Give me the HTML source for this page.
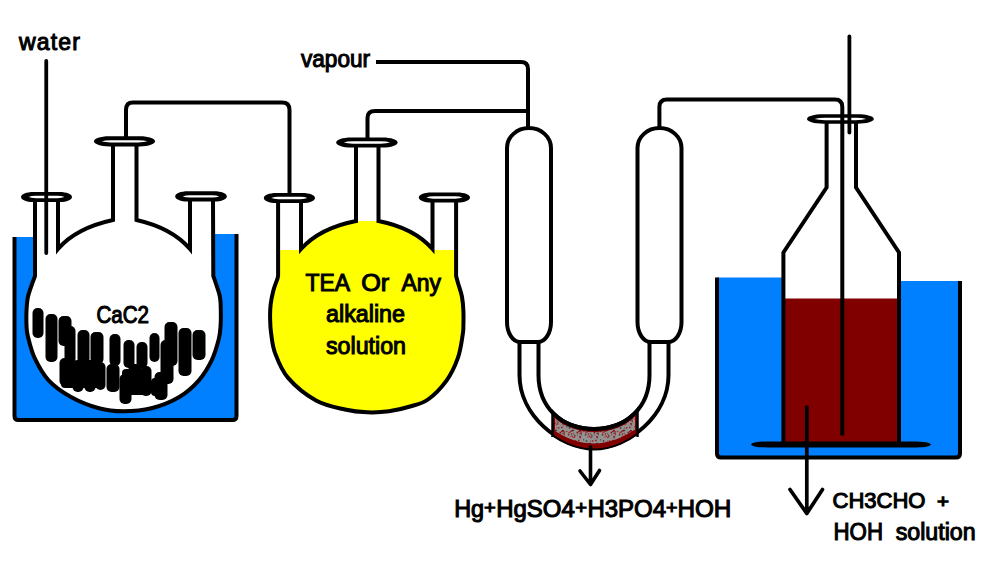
<!DOCTYPE html>
<html><head><meta charset="utf-8">
<style>
html,body{margin:0;padding:0;background:#fff;width:1000px;height:572px;overflow:hidden;}
svg{display:block;}
text{font-family:"Liberation Sans",sans-serif;fill:#000;}
</style></head>
<body>
<svg width="1000" height="572" viewBox="0 0 1000 572">
<rect width="1000" height="572" fill="#fff"/>

<!-- ============ BATH 1 ============ -->
<path d="M14.5,237 V416 Q14.5,420 18.5,420 H232.5 Q236.5,420 236.5,416 V234 H124 V237 Z" fill="#0080ff"/>
<path d="M14.5,237 V416 Q14.5,420 18.5,420 H232.5 Q236.5,420 236.5,416 V234" fill="none" stroke="#000" stroke-width="4"/>

<!-- ============ FLASK 1 ============ -->
<path d="M35,200 L35,276 C34.6,277.2 33.6,279.5 32.4,283.0 C31.2,286.5 28.9,292.3 27.9,297.0 C26.9,301.7 26.7,306.3 26.5,311.0 C26.3,315.7 26.3,320.8 26.5,325.0 C26.7,329.2 26.4,330.5 27.8,336.0 C29.2,341.5 31.1,350.5 34.6,357.9 C38.1,365.3 42.5,373.8 48.6,380.3 C54.7,386.8 62.6,392.3 71.0,397.0 C79.4,401.7 90.2,405.9 99.0,408.3 C107.8,410.7 114.8,411.3 123.5,411.3 C132.2,411.3 142.1,410.7 151.4,408.3 C160.7,405.9 171.4,401.7 179.3,397.0 C187.2,392.3 193.5,386.4 198.9,380.3 C204.3,374.2 208.2,367.6 211.5,360.7 C214.8,353.8 217.3,344.9 218.8,339.0 C220.3,333.1 220.3,329.7 220.6,325.0 C220.9,320.3 220.9,315.7 220.8,311.0 C220.7,306.3 220.8,301.7 219.9,297.0 C219.1,292.3 216.8,286.5 215.7,283.0 C214.6,279.5 213.7,277.2 213.3,276.0 L213,200 Z" fill="#fff"/>
<path d="M35,202 L35,276 C34.6,277.2 33.6,279.5 32.4,283.0 C31.2,286.5 28.9,292.3 27.9,297.0 C26.9,301.7 26.7,306.3 26.5,311.0 C26.3,315.7 26.3,320.8 26.5,325.0 C26.7,329.2 26.4,330.5 27.8,336.0 C29.2,341.5 31.1,350.5 34.6,357.9 C38.1,365.3 42.5,373.8 48.6,380.3 C54.7,386.8 62.6,392.3 71.0,397.0 C79.4,401.7 90.2,405.9 99.0,408.3 C107.8,410.7 114.8,411.3 123.5,411.3 C132.2,411.3 142.1,410.7 151.4,408.3 C160.7,405.9 171.4,401.7 179.3,397.0 C187.2,392.3 193.5,386.4 198.9,380.3 C204.3,374.2 208.2,367.6 211.5,360.7 C214.8,353.8 217.3,344.9 218.8,339.0 C220.3,333.1 220.3,329.7 220.6,325.0 C220.9,320.3 220.9,315.7 220.8,311.0 C220.7,306.3 220.8,301.7 219.9,297.0 C219.1,292.3 216.8,286.5 215.7,283.0 C214.6,279.5 213.7,277.2 213.3,276.0 L213,201" fill="none" stroke="#000" stroke-width="4"/>
<path d="M190,201 L190,249 Q172,228 136.5,220 L136.5,146" fill="none" stroke="#000" stroke-width="4" stroke-linejoin="miter"/>
<path d="M113,146 L113,220 Q76,228 58,249 L58,202" fill="none" stroke="#000" stroke-width="4" stroke-linejoin="miter"/>

<!-- CaC2 lumps -->
<g fill="#000">
<rect x="32.5" y="308" width="11" height="30" rx="5"/>
<rect x="45.5" y="314" width="12" height="48" rx="5"/>
<rect x="58.5" y="316" width="13" height="30" rx="5"/>
<rect x="64.5" y="326" width="11" height="38" rx="5"/>
<rect x="77.5" y="330" width="12" height="34" rx="5"/>
<rect x="90.5" y="332" width="13" height="32" rx="5"/>
<rect x="109.5" y="334" width="11" height="32" rx="5"/>
<rect x="123.5" y="340" width="11" height="28" rx="5"/>
<rect x="136.5" y="342" width="11" height="26" rx="5"/>
<rect x="149.5" y="333" width="10" height="29" rx="5"/>
<rect x="164.5" y="322" width="13" height="44" rx="5"/>
<rect x="178.5" y="328" width="13" height="48" rx="5"/>
<rect x="192.5" y="330" width="13" height="30" rx="5"/>
<rect x="59.5" y="358" width="13" height="28" rx="5"/>
<rect x="72.5" y="360" width="11" height="32" rx="5"/>
<rect x="84.5" y="360" width="11" height="32" rx="5"/>
<rect x="95.5" y="362" width="10" height="28" rx="5"/>
<rect x="106.5" y="364" width="13" height="28" rx="5"/>
<rect x="119.5" y="374" width="12" height="30" rx="5"/>
<rect x="128.5" y="364" width="13" height="24" rx="5"/>
<rect x="140.5" y="366" width="11" height="30" rx="5"/>
<rect x="154.5" y="372" width="13" height="28" rx="5"/>
<rect x="160.5" y="340" width="13" height="44" rx="5"/>
<rect x="61" y="363" width="43" height="25" rx="4"/>
<rect x="122" y="369" width="29" height="26" rx="4"/>
<rect x="151" y="378" width="12" height="18" rx="4"/>
</g>
<text x="96.5" y="323" font-size="23" stroke="#000" stroke-width="1.1" textLength="52.5" lengthAdjust="spacingAndGlyphs">CaC2</text>

<!-- collars flask1 -->
<path d="M21,197 C21,194.19 26.1,191.9 33.75,191.9 H59.25 C66.9,191.9 72,194.19 72,197 C72,199.81 66.9,202.1 59.25,202.1 H33.75 C26.1,202.1 21,199.81 21,197 Z" fill="#000"/>
<path d="M28.5,197 Q31.2,195.85 35.7,195.85 H57.3 Q61.8,195.85 64.5,197 Q61.8,198.15 57.3,198.15 H35.7 Q31.2,198.15 28.5,197 Z" fill="#fff"/>
<path d="M94,141.3 C94,138.5 100.1,136.2 109.25,136.2 H139.75 C148.9,136.2 155,138.5 155,141.3 C155,144.11 148.9,146.4 139.75,146.4 H109.25 C100.1,146.4 94,144.11 94,141.3 Z" fill="#000"/>
<path d="M101.5,141.3 Q104.95,140.15 110.7,140.15 H138.3 Q144.05,140.15 147.5,141.3 Q144.05,142.45 138.3,142.45 H110.7 Q104.95,142.45 101.5,141.3 Z" fill="#fff"/>
<path d="M175.2,196.4 C175.2,193.59 180.36,191.3 188.1,191.3 H213.9 C221.64,191.3 226.8,193.59 226.8,196.4 C226.8,199.21 221.64,201.5 213.9,201.5 H188.1 C180.36,201.5 175.2,199.21 175.2,196.4 Z" fill="#000"/>
<path d="M182.7,196.4 Q185.44,195.25 190.02,195.25 H211.98 Q216.55,195.25 219.3,196.4 Q216.55,197.55 211.98,197.55 H190.02 Q185.44,197.55 182.7,196.4 Z" fill="#fff"/>

<!-- water tube -->
<line x1="46.25" y1="61" x2="46.25" y2="253" stroke="#000" stroke-width="3.8" stroke-linecap="round"/>
<text x="19" y="50" font-size="23" stroke="#000" stroke-width="1.05" textLength="61" lengthAdjust="spacing">water</text>

<!-- tube 1 -->
<path d="M126,137 V110 Q126,102.6 133,102.6 H282 Q289.5,102.6 289.5,110 V194" fill="none" stroke="#000" stroke-width="4"/>

<!-- ============ FLASK 2 ============ -->
<path d="M278.1,203 L278.1,275 C278.0,275.6 278.2,276.3 277.4,278.8 C276.6,281.3 274.6,285.8 273.5,290.0 C272.4,294.2 271.3,299.3 270.7,304.0 C270.1,308.7 270.0,313.1 270.1,318.0 C270.2,322.9 270.2,327.4 271.1,333.3 C272.0,339.2 272.4,346.0 275.2,353.4 C278.0,360.8 281.3,370.0 288.1,377.9 C294.9,385.8 306.5,395.2 316.0,400.5 C325.5,405.8 336.5,407.5 345.0,409.5 C353.5,411.5 359.7,412.0 367.0,412.3 C374.3,412.6 381.8,412.3 389.0,411.3 C396.2,410.3 403.5,408.5 410.0,406.5 C416.5,404.5 421.9,403.9 428.0,399.5 C434.1,395.1 441.7,387.2 446.7,380.3 C451.7,373.4 455.2,365.5 457.9,357.9 C460.6,350.3 461.8,340.2 462.7,334.7 C463.6,329.2 463.3,328.9 463.4,325.0 C463.5,321.1 463.6,315.7 463.4,311.0 C463.2,306.3 462.9,301.7 462.0,297.0 C461.1,292.3 459.0,286.5 458.0,283.0 C457.0,279.5 456.4,277.2 456.1,276.0 L456.1,202 Z" fill="#fff"/>
<path d="M278.1,250 L278.1,275 C278.0,275.6 278.2,276.3 277.4,278.8 C276.6,281.3 274.6,285.8 273.5,290.0 C272.4,294.2 271.3,299.3 270.7,304.0 C270.1,308.7 270.0,313.1 270.1,318.0 C270.2,322.9 270.2,327.4 271.1,333.3 C272.0,339.2 272.4,346.0 275.2,353.4 C278.0,360.8 281.3,370.0 288.1,377.9 C294.9,385.8 306.5,395.2 316.0,400.5 C325.5,405.8 336.5,407.5 345.0,409.5 C353.5,411.5 359.7,412.0 367.0,412.3 C374.3,412.6 381.8,412.3 389.0,411.3 C396.2,410.3 403.5,408.5 410.0,406.5 C416.5,404.5 421.9,403.9 428.0,399.5 C434.1,395.1 441.7,387.2 446.7,380.3 C451.7,373.4 455.2,365.5 457.9,357.9 C460.6,350.3 461.8,340.2 462.7,334.7 C463.6,329.2 463.3,328.9 463.4,325.0 C463.5,321.1 463.6,315.7 463.4,311.0 C463.2,306.3 462.9,301.7 462.0,297.0 C461.1,292.3 459.0,286.5 458.0,283.0 C457.0,279.5 456.4,277.2 456.1,276.0 L456.1,250 L432.5,250 Q414,228 378.5,221 L356,221 Q320,228 301,250 Z" fill="#ffff00"/>
<path d="M278.1,203 L278.1,275 C278.0,275.6 278.2,276.3 277.4,278.8 C276.6,281.3 274.6,285.8 273.5,290.0 C272.4,294.2 271.3,299.3 270.7,304.0 C270.1,308.7 270.0,313.1 270.1,318.0 C270.2,322.9 270.2,327.4 271.1,333.3 C272.0,339.2 272.4,346.0 275.2,353.4 C278.0,360.8 281.3,370.0 288.1,377.9 C294.9,385.8 306.5,395.2 316.0,400.5 C325.5,405.8 336.5,407.5 345.0,409.5 C353.5,411.5 359.7,412.0 367.0,412.3 C374.3,412.6 381.8,412.3 389.0,411.3 C396.2,410.3 403.5,408.5 410.0,406.5 C416.5,404.5 421.9,403.9 428.0,399.5 C434.1,395.1 441.7,387.2 446.7,380.3 C451.7,373.4 455.2,365.5 457.9,357.9 C460.6,350.3 461.8,340.2 462.7,334.7 C463.6,329.2 463.3,328.9 463.4,325.0 C463.5,321.1 463.6,315.7 463.4,311.0 C463.2,306.3 462.9,301.7 462.0,297.0 C461.1,292.3 459.0,286.5 458.0,283.0 C457.0,279.5 456.4,277.2 456.1,276.0 L456.1,202" fill="none" stroke="#000" stroke-width="4"/>
<path d="M432.5,202 L432.5,249 Q414,228 378.5,221 L378.5,147" fill="none" stroke="#000" stroke-width="4"/>
<path d="M356,147 L356,221 Q320,228 301,249 L301,203" fill="none" stroke="#000" stroke-width="4"/>
<path d="M263.8,198 C263.8,195.19 268.92,192.9 276.6,192.9 H302.2 C309.88,192.9 315,195.19 315,198 C315,200.81 309.88,203.1 302.2,203.1 H276.6 C268.92,203.1 263.8,200.81 263.8,198 Z" fill="#000"/>
<path d="M271.3,198 Q274.01,196.85 278.54,196.85 H300.26 Q304.78,196.85 307.5,198 Q304.78,199.15 300.26,199.15 H278.54 Q274.01,199.15 271.3,198 Z" fill="#fff"/>
<path d="M336.2,142.5 C336.2,139.69 342.34,137.4 351.55,137.4 H382.25 C391.46,137.4 397.6,139.69 397.6,142.5 C397.6,145.31 391.46,147.6 382.25,147.6 H351.55 C342.34,147.6 336.2,145.31 336.2,142.5 Z" fill="#000"/>
<path d="M343.7,142.5 Q347.18,141.35 352.98,141.35 H380.82 Q386.62,141.35 390.1,142.5 Q386.62,143.65 380.82,143.65 H352.98 Q347.18,143.65 343.7,142.5 Z" fill="#fff"/>
<path d="M418.8,197.5 C418.8,194.69 423.92,192.4 431.6,192.4 H457.2 C464.88,192.4 470,194.69 470,197.5 C470,200.31 464.88,202.6 457.2,202.6 H431.6 C423.92,202.6 418.8,200.31 418.8,197.5 Z" fill="#000"/>
<path d="M426.3,197.5 Q429.01,196.35 433.54,196.35 H455.26 Q459.78,196.35 462.5,197.5 Q459.78,198.65 455.26,198.65 H433.54 Q429.01,198.65 426.3,197.5 Z" fill="#fff"/>
<text x="305.5" y="291" font-size="23" stroke="#000" stroke-width="1.05" textLength="44.5" lengthAdjust="spacingAndGlyphs">TEA</text><text x="361.2" y="291" font-size="23" stroke="#000" stroke-width="1.05" textLength="28" lengthAdjust="spacingAndGlyphs">Or</text><text x="401.4" y="291" font-size="23" stroke="#000" stroke-width="1.05" textLength="39.5" lengthAdjust="spacingAndGlyphs">Any</text>
<text x="326" y="322" font-size="23" stroke="#000" stroke-width="1.05" textLength="79" lengthAdjust="spacingAndGlyphs">alkaline</text>
<text x="326" y="353.5" font-size="23" stroke="#000" stroke-width="1.05" textLength="80" lengthAdjust="spacingAndGlyphs">solution</text>

<!-- tube 2 -->
<path d="M367.5,138 V118 Q367.5,111 375,111 H528" fill="none" stroke="#000" stroke-width="4"/>
<!-- vapour -->
<text x="301" y="67" font-size="23" stroke="#000" stroke-width="1.05" textLength="69" lengthAdjust="spacingAndGlyphs">vapour</text>
<path d="M376,62 H521 Q528,62 528,69 V128" fill="none" stroke="#000" stroke-width="4"/>

<!-- ============ U TUBE ============ -->
<defs>
<pattern id="spk" width="17" height="13" patternUnits="userSpaceOnUse"><rect width="17" height="13" fill="#939393"/><rect x="5.5" y="2.0" width="0.9" height="0.9" fill="#403030"/><rect x="1.2" y="7.0" width="0.9" height="0.9" fill="#a02020"/><rect x="15.5" y="2.8" width="1.5" height="1.5" fill="#8a1515"/><rect x="7.1" y="3.1" width="1.5" height="1.5" fill="#b03030"/><rect x="1.0" y="7.4" width="0.9" height="0.9" fill="#800000"/><rect x="9.8" y="5.2" width="0.9" height="0.9" fill="#800000"/><rect x="9.5" y="1.7" width="1.1" height="1.1" fill="#5a2a2a"/><rect x="9.2" y="7.4" width="1.1" height="1.1" fill="#b03030"/><rect x="1.8" y="7.4" width="1.3" height="1.3" fill="#800000"/><rect x="1.7" y="9.3" width="0.9" height="0.9" fill="#b03030"/><rect x="10.5" y="6.5" width="1.5" height="1.5" fill="#b03030"/><rect x="13.2" y="6.1" width="1.3" height="1.3" fill="#5a2a2a"/><rect x="5.1" y="10.3" width="1.1" height="1.1" fill="#403030"/><rect x="1.4" y="3.9" width="1.3" height="1.3" fill="#5a2a2a"/><rect x="12.4" y="3.7" width="0.9" height="0.9" fill="#8a1515"/><rect x="8.7" y="2.1" width="1.1" height="1.1" fill="#a02020"/><rect x="15.9" y="5.5" width="0.9" height="0.9" fill="#403030"/><rect x="13.0" y="7.4" width="1.3" height="1.3" fill="#a02020"/><rect x="11.8" y="7.7" width="1.5" height="1.5" fill="#b03030"/><rect x="1.2" y="1.2" width="1.5" height="1.5" fill="#a02020"/><rect x="11.8" y="0.8" width="1.3" height="1.3" fill="#403030"/><rect x="11.0" y="12.9" width="1.3" height="1.3" fill="#5a2a2a"/><rect x="12.2" y="11.5" width="0.9" height="0.9" fill="#a02020"/><rect x="16.0" y="4.6" width="0.9" height="0.9" fill="#b03030"/><rect x="8.4" y="2.8" width="1.1" height="1.1" fill="#a02020"/><rect x="12.6" y="5.2" width="0.9" height="0.9" fill="#5a2a2a"/><rect x="2.8" y="5.2" width="1.1" height="1.1" fill="#a02020"/><rect x="13.9" y="11.2" width="1.5" height="1.5" fill="#a02020"/><rect x="16.8" y="8.9" width="1.1" height="1.1" fill="#5a2a2a"/><rect x="2.6" y="2.3" width="1.1" height="1.1" fill="#800000"/><rect x="0.2" y="10.8" width="1.3" height="1.3" fill="#800000"/><rect x="4.8" y="1.9" width="1.3" height="1.3" fill="#b03030"/><rect x="10.4" y="4.1" width="0.9" height="0.9" fill="#800000"/><rect x="7.8" y="11.3" width="1.5" height="1.5" fill="#403030"/><rect x="6.8" y="5.1" width="1.5" height="1.5" fill="#5a2a2a"/><rect x="1.1" y="0.9" width="1.5" height="1.5" fill="#800000"/><rect x="2.8" y="4.4" width="0.9" height="0.9" fill="#8a1515"/><rect x="0.0" y="2.0" width="1.3" height="1.3" fill="#8a1515"/><rect x="10.4" y="0.9" width="1.5" height="1.5" fill="#800000"/><rect x="2.5" y="3.3" width="1.3" height="1.3" fill="#a02020"/></pattern>
<clipPath id="hgclip"><rect x="552" y="395" width="86" height="60"/></clipPath>
<clipPath id="hgclip2"><rect x="555" y="395" width="80" height="60"/></clipPath>
</defs>
<!-- bulbs -->
<path d="M507,322 V148 A22,20 0 0 1 551,148 V322 A13,20 0 0 1 538,342 H520 A13,20 0 0 1 507,322 Z" fill="none" stroke="#000" stroke-width="4"/>
<path d="M637.5,322 V148 A22,20 0 0 1 681.5,148 V322 A13,20 0 0 1 668.5,342 H650.5 A13,20 0 0 1 637.5,322 Z" fill="none" stroke="#000" stroke-width="4"/>
<path d="M519.5,342 V375 C519.5,415.4 559.2,448 594,448 C628.8,448 668.5,415.4 668.5,375 V342" fill="none" stroke="#000" stroke-width="4"/>
<path d="M538.5,342 V375 C538.5,407.1 561.1,429 594,429 C626.9,429 649.5,407.1 649.5,375 V342" fill="none" stroke="#000" stroke-width="4"/>
<g clip-path="url(#hgclip)">
<path d="M519.5,375 C519.5,415.4 559.2,448 594,448 C628.8,448 668.5,415.4 668.5,375 L649.5,375 C649.5,407.1 626.9,429 594,429 C561.1,429 538.5,407.1 538.5,375 Z" fill="#800000" transform="translate(0,1.2)"/>
</g>
<g clip-path="url(#hgclip2)">
<path d="M519.5,370.5 C519.5,410.9 559.2,443.5 594,443.5 C628.8,443.5 668.5,410.9 668.5,370.5 L649.5,378 C649.5,410.1 626.9,432 594,432 C561.1,432 538.5,410.1 538.5,378 Z" fill="url(#spk)"/>
</g>
<path d="M538.5,375 C538.5,407.1 561.1,429 594,429 C626.9,429 649.5,407.1 649.5,375" fill="none" stroke="#000" stroke-width="4" clip-path="url(#hgclip)"/>
<path d="M519.5,375 C519.5,415.4 559.2,448 594,448 C628.8,448 668.5,415.4 668.5,375" fill="none" stroke="#000" stroke-width="2" transform="translate(0,1.6)" clip-path="url(#hgclip)"/>
<line x1="552.5" y1="412" x2="552.5" y2="437" stroke="#000" stroke-width="2.5"/>
<line x1="637.5" y1="411" x2="637.5" y2="437" stroke="#000" stroke-width="2.5"/>
<!-- arrow 1 -->
<path d="M590.5,447 V484 M580,471 L590.5,484.5 L599.5,470.5" fill="none" stroke="#000" stroke-width="3.6" stroke-linecap="round" stroke-linejoin="round"/>
<text x="454.2" y="516.7" font-size="23" stroke="#000" stroke-width="1.05" textLength="29.9" lengthAdjust="spacingAndGlyphs">Hg</text>
<text x="484.0" y="514" font-size="18" stroke="#000" stroke-width="1.0" textLength="11.8" lengthAdjust="spacingAndGlyphs">+</text>
<text x="496.2" y="516.7" font-size="23" stroke="#000" stroke-width="1.05" textLength="78.6" lengthAdjust="spacingAndGlyphs">HgSO4</text>
<text x="575.2" y="514" font-size="18" stroke="#000" stroke-width="1.0" textLength="11.8" lengthAdjust="spacingAndGlyphs">+</text>
<text x="587.4" y="516.7" font-size="23" stroke="#000" stroke-width="1.05" textLength="78.7" lengthAdjust="spacingAndGlyphs">H3PO4</text>
<text x="666.0" y="514" font-size="18" stroke="#000" stroke-width="1.0" textLength="11.5" lengthAdjust="spacingAndGlyphs">+</text>
<text x="677.4" y="516.7" font-size="23" stroke="#000" stroke-width="1.05" textLength="53.9" lengthAdjust="spacingAndGlyphs">HOH</text>

<!-- ============ BATH 3 ============ -->
<path d="M717,277.5 V453.5 Q717,457.5 721,457.5 H956 Q960,457.5 960,453.5 V281 H841 V277.5 Z" fill="#0080ff"/>
<path d="M717,277.5 V453.5 Q717,457.5 721,457.5 H956 Q960,457.5 960,453.5 V281" fill="none" stroke="#000" stroke-width="4"/>

<!-- ============ ERLENMEYER ============ -->
<path d="M826.6,123 V187.5 L783.4,252.5 V444 H899 V252.5 L856,187.5 V123 Z" fill="#fff"/>
<rect x="783.4" y="298.5" width="115.6" height="146" fill="#800000"/>
<path d="M826.6,123 V187.5 L783.4,252.5 V444 M899,444 V252.5 L856,187.5 V123" fill="none" stroke="#000" stroke-width="4"/>
<path d="M751,444.5 C753,441.5 762,441.5 774,441.5 H908 C920,441.5 929,441.5 931,444.5 C929,447.5 920,447.5 908,447.5 H774 C762,447.5 753,447.5 751,444.5 Z" fill="#000"/>
<path d="M807,119 C807,116.41 813.68,114.3 823.7,114.3 H857.1 C867.12,114.3 873.8,116.41 873.8,119 C873.8,121.59 867.12,123.7 857.1,123.7 H823.7 C813.68,123.7 807,121.59 807,119 Z" fill="#000"/>
<path d="M814.5,119 Q818.39,117.85 824.86,117.85 H855.94 Q862.42,117.85 866.3,119 Q862.42,120.15 855.94,120.15 H824.86 Q818.39,120.15 814.5,119 Z" fill="#fff"/>
<path d="M659.4,128 V107 Q659.4,99.5 667,99.5 H835 Q842.3,99.5 842.3,107 V435.6" fill="none" stroke="#000" stroke-width="4"/>
<line x1="849.4" y1="36.5" x2="849.4" y2="132.5" stroke="#000" stroke-width="3.8" stroke-linecap="round"/>
<!-- arrow 2 -->
<path d="M806.8,407 V513 M790,489.5 L806.8,513.5 L822.5,489.5" fill="none" stroke="#000" stroke-width="3.7" stroke-linecap="round" stroke-linejoin="round"/>
<text x="832.5" y="508" font-size="22" stroke="#000" stroke-width="1.1" textLength="93" lengthAdjust="spacingAndGlyphs">CH3CHO</text>
<text x="937" y="507.5" font-size="19" stroke="#000" stroke-width="1.2" textLength="12" lengthAdjust="spacingAndGlyphs">+</text>
<text x="833.5" y="539.5" font-size="23" stroke="#000" stroke-width="1.05" textLength="49.5" lengthAdjust="spacingAndGlyphs">HOH</text>
<text x="895.7" y="539.5" font-size="23" stroke="#000" stroke-width="1.05" textLength="80" lengthAdjust="spacingAndGlyphs">solution</text>
</svg>
</body></html>
